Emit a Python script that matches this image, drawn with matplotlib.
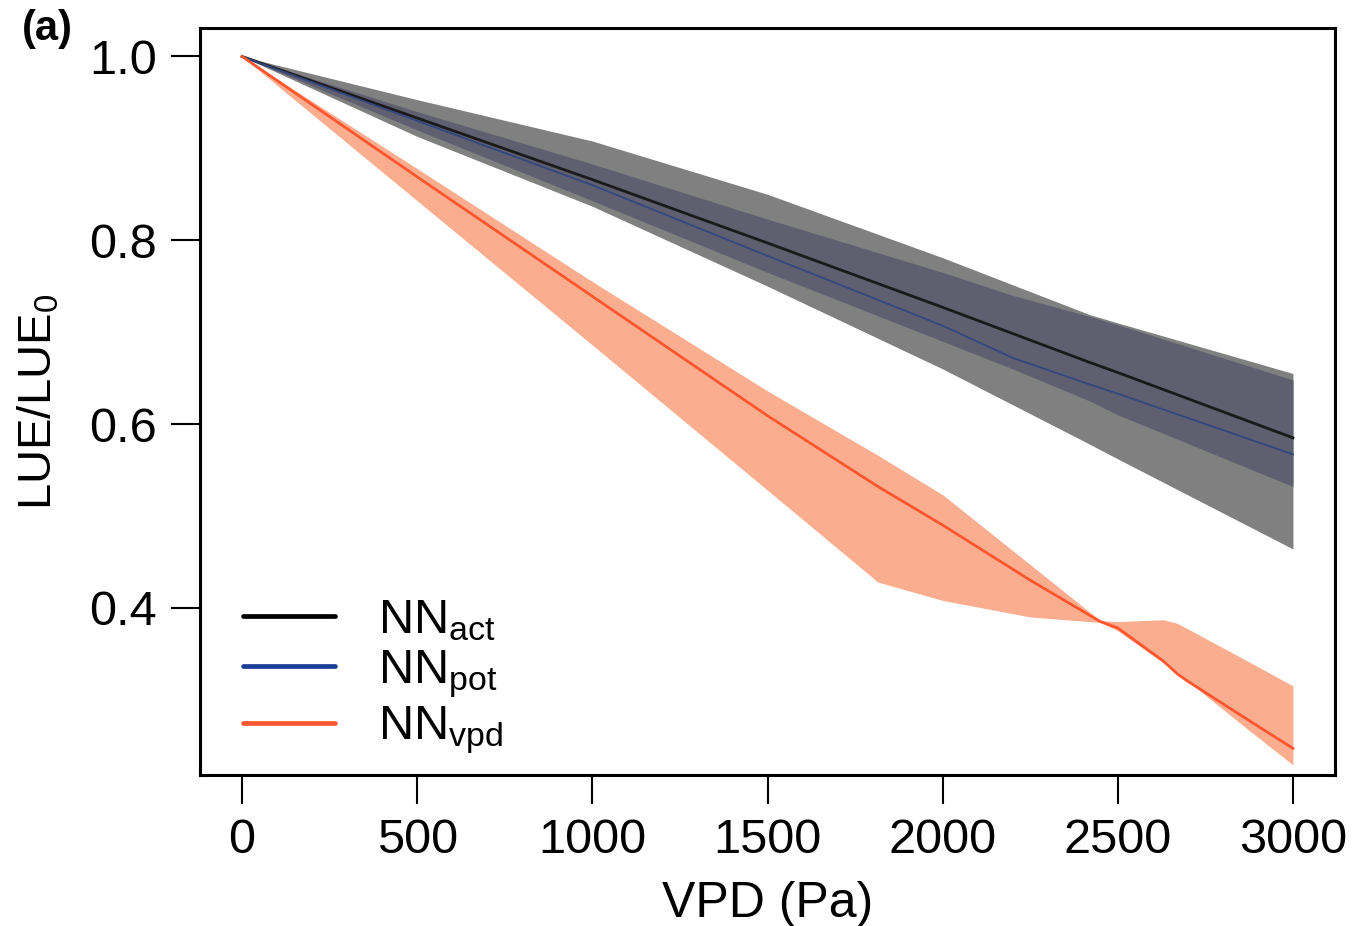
import numpy as np
import matplotlib
matplotlib.use("Agg")
import matplotlib.pyplot as plt

plt.rcParams['font.family'] = ['Liberation Sans', 'DejaVu Sans']
plt.rcParams['mathtext.fontset'] = 'custom'
plt.rcParams['mathtext.rm'] = 'Liberation Sans'
plt.rcParams['mathtext.it'] = 'Liberation Sans'

# ---- data ---------------------------------------------------------------
# NN_act (grey band + black mean)
x_act     = [0, 500, 1000, 1500, 2000, 2420, 2500, 3000]
act_mean  = [1.0, 0.933, 0.866, 0.797, 0.727, 0.667, 0.656, 0.585]
act_upper = [1.0, 0.953, 0.908, 0.850, 0.781, 0.719, 0.710, 0.655]
act_lower = [1.0, 0.913, 0.837, 0.750, 0.660, 0.578, 0.562, 0.464]

# NN_pot (dark band + blue mean)
x_pot     = [0, 500, 1000, 1500, 2000, 2200, 2420, 2500, 3000]
pot_mean  = [1.0, 0.930, 0.860, 0.783, 0.707, 0.672, 0.643, 0.633, 0.567]
pot_upper = [1.0, 0.940, 0.883, 0.823, 0.765, 0.740, 0.717, 0.708, 0.648]
pot_lower = [1.0, 0.920, 0.843, 0.765, 0.690, 0.660, 0.625, 0.610, 0.532]

# NN_vpd (orange band + orange mean)
x_vpd     = [0, 500, 1000, 1500, 1815, 2000, 2250, 2450, 2500, 2630, 2670, 2700, 2880, 3000]
vpd_mean  = [1.0, 0.869, 0.739, 0.609, 0.532, 0.490, 0.430, 0.385, 0.378, 0.342, 0.328, 0.320, 0.276, 0.247]
vpd_upper = [1.0, 0.878, 0.755, 0.636, 0.566, 0.523, 0.447, 0.386, 0.385, 0.387, 0.383, 0.377, 0.340, 0.315]
vpd_lower = [1.0, 0.843, 0.686, 0.528, 0.428, 0.408, 0.390, 0.384, 0.375, 0.340, 0.330, 0.320, 0.265, 0.229]

labels = [r'NN$_{\mathrm{act}}$', r'NN$_{\mathrm{pot}}$', r'NN$_{\mathrm{vpd}}$']
xticks = [0, 500, 1000, 1500, 2000, 2500, 3000]
yticks = [0.4, 0.6, 0.8, 1.0]

# ---- plot ----------------------------------------------------------------
fig = plt.figure(figsize=(13.58, 9.26), dpi=100)
ax = fig.add_axes([200/1358, 1-775/926, 1135/1358, 747/926])

ax.fill_between(x_act, act_lower, act_upper, color='#808080', linewidth=0)
ax.fill_between(x_pot, pot_lower, pot_upper, color='#5e6070', linewidth=0)
ax.fill_between(x_vpd, vpd_lower, vpd_upper, color='#faae8f', linewidth=0)

ax.plot(x_act, act_mean, color='#1a1a1a', lw=2.0)
ax.plot(x_pot, pot_mean, color='#33467f', lw=1.3)
ax.plot(x_vpd, vpd_mean, color='#ff5630', lw=2.0)

# legend handles (thicker than the data lines, as in the original)
h1, = ax.plot([], [], color='black', lw=3.4, solid_capstyle='round')
h2, = ax.plot([], [], color='#1a3f99', lw=3.4, solid_capstyle='round')
h3, = ax.plot([], [], color='#ff5630', lw=3.4, solid_capstyle='round')
ax.legend([h1, h2, h3], labels, loc='lower left', bbox_to_anchor=(0.038, 0.025),
          frameon=False, fontsize=35, handlelength=1.9, handletextpad=0.88,
          labelspacing=0.1, borderpad=0, borderaxespad=0)

ax.set_xlim(-120, 3120)
ax.set_ylim(0.218, 1.031)
ax.set_xticks(xticks)
ax.set_xticklabels([str(v) for v in xticks])
ax.set_yticks(yticks)
ax.set_yticklabels(['%.1f' % v for v in yticks])
ax.tick_params(axis='both', direction='out', length=21, width=1.5, labelsize=35, pad=10)
for s in ax.spines.values():
    s.set_linewidth(2.2)

ax.set_xlabel('VPD (Pa)', fontsize=36, labelpad=13)
ax.set_ylabel(r'LUE/LUE$_0$', fontsize=34, labelpad=20)

fig.text(0.016, 0.969, '(a)', fontsize=30, fontweight='bold', va='center')

fig.savefig('out.png', dpi=100)
